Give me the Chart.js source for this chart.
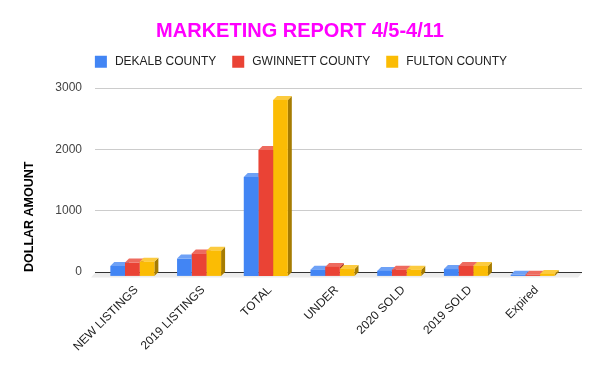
<!DOCTYPE html>
<html>
<head>
<meta charset="utf-8">
<script src="https://cdn.jsdelivr.net/npm/chart.js@4"></script>
<style>
  body { margin: 0; background: #fff; }
</style>
</head>
<body>
<canvas id="chart" width="600" height="371"></canvas>
<script>
const categories = ['NEW LISTINGS', '2019 LISTINGS', 'TOTAL', 'UNDER', '2020 SOLD', '2019 SOLD', 'Expired'];
const dekalb = [170, 290, 1620, 110, 90, 120, 25];
const gwinnett = [225, 375, 2060, 155, 110, 170, 25];
const fulton = [240, 420, 2875, 120, 110, 170, 40];
const yTicks = [0, 1000, 2000, 3000];

const seriesNames = ['DEKALB COUNTY', 'GWINNETT COUNTY', 'FULTON COUNTY'];
const frontColors = ['#4285f4', '#ea4335', '#fbbc04'];
const topColors = ['#6ea1f6', '#ee6b5f', '#fccb3f'];
const sideColors = ['#2b5aa8', '#a12e24', '#a67c02'];

// 3d look: front faces are pushed down-left, top and side faces drawn behind
const depthX = 4, depthY = 4, shiftY = 4.4;

const bars3d = {
  id: 'bars3d',
  beforeDatasetsDraw(chart) {
    const ctx = chart.ctx;
    const area = chart.chartArea;
    const yScale = chart.scales.y;
    const y0 = yScale.getPixelForValue(0);

    // floor under the baseline
    ctx.save();
    ctx.fillStyle = '#ececec';
    ctx.beginPath();
    ctx.moveTo(95, y0 + 1);
    ctx.lineTo(582, y0 + 1);
    ctx.lineTo(582 - depthX, y0 + shiftY + 1);
    ctx.lineTo(95 - depthX, y0 + shiftY + 1);
    ctx.closePath();
    ctx.fill();

    // gridlines run a bit past the plot on the right
    ctx.lineWidth = 1;
    yTicks.forEach(v => {
      const py = Math.round(yScale.getPixelForValue(v) - 0.5) + 0.5;
      ctx.strokeStyle = v === 0 ? '#333' : '#ccc';
      ctx.beginPath();
      ctx.moveTo(area.right, py);
      ctx.lineTo(582, py);
      ctx.stroke();
    });
    ctx.restore();

    ctx.save();
    ctx.translate(-depthX, shiftY);
    chart.data.datasets.forEach((ds, i) => {
      const meta = chart.getDatasetMeta(i);
      meta.data.forEach(bar => {
        const p = bar.getProps(['x', 'y', 'base', 'width'], true);
        const left = p.x - p.width / 2, right = p.x + p.width / 2;
        ctx.fillStyle = sideColors[i];
        ctx.beginPath();
        ctx.moveTo(right, p.base);
        ctx.lineTo(right, p.y);
        ctx.lineTo(right + depthX, p.y - depthY);
        ctx.lineTo(right + depthX, p.base - depthY);
        ctx.closePath();
        ctx.fill();
        ctx.fillStyle = topColors[i];
        ctx.beginPath();
        ctx.moveTo(left, p.y);
        ctx.lineTo(right, p.y);
        ctx.lineTo(right + depthX, p.y - depthY);
        ctx.lineTo(left + depthX, p.y - depthY);
        ctx.closePath();
        ctx.fill();
      });
    });
  },
  afterDatasetsDraw(chart) {
    chart.ctx.restore();
  }
};

Chart.defaults.font.family = '"Liberation Sans", Arial, sans-serif';

const chart = new Chart(document.getElementById('chart'), {
  type: 'bar',
  data: {
    labels: categories,
    datasets: [
      { label: seriesNames[0], data: dekalb, backgroundColor: frontColors[0], clip: false },
      { label: seriesNames[1], data: gwinnett, backgroundColor: frontColors[1], clip: false },
      { label: seriesNames[2], data: fulton, backgroundColor: frontColors[2], clip: false }
    ]
  },
  options: {
    responsive: false,
    animation: false,
    layout: { padding: 0 },
    datasets: { bar: { barPercentage: 1, categoryPercentage: 0.66 } },
    plugins: {
      title: {
        display: true,
        text: 'MARKETING REPORT 4/5-4/11',
        color: '#ff00ff',
        font: { size: 20, weight: 'bold', lineHeight: 1.2 },
        padding: { top: 19, bottom: -3.3 }
      },
      // spacer between legend and plot
      subtitle: { display: true, text: '', weight: 500, padding: 0, font: { size: 8.3, lineHeight: 1 } },
      legend: {
        position: 'top',
        labels: {
          boxWidth: 16,
          boxHeight: 16,
          padding: 14,
          color: '#222',
          font: { size: 12 },
          generateLabels(chart) {
            const items = Chart.defaults.plugins.legend.labels.generateLabels(chart);
            items.forEach(it => { it.strokeStyle = '#fff'; it.lineWidth = 4; });
            return items;
          }
        }
      },
      tooltip: { enabled: false }
    },
    scales: {
      x: {
        afterFit: s => { s.height = 99; },
        grid: { display: false, drawTicks: false },
        border: { display: false },
        ticks: { autoSkip: false, minRotation: 45, maxRotation: 45, padding: 11, color: '#222', font: { size: 12 } }
      },
      y: {
        min: 0,
        max: 3000,
        afterFit: s => { s.width = 103; },
        afterBuildTicks: s => { s.ticks = yTicks.map(v => ({ value: v })); },
        ticks: { padding: 13, color: '#444', font: { size: 12 }, callback: v => String(v) },
        grid: { color: c => (c.tick && c.tick.value === 0) ? '#333' : '#ccc', tickLength: 8 },
        border: { display: false },
        title: {
          display: true,
          text: 'DOLLAR AMOUNT',
          align: 'start',
          color: '#000',
          font: { size: 12.5, weight: 'bold' },
          padding: { top: 22, bottom: 0 }
        }
      },
      y2: {
        position: 'right',
        afterFit: s => { s.width = 30; },
        grid: { display: false, drawTicks: false },
        border: { display: false },
        ticks: { display: false }
      }
    }
  },
  plugins: [bars3d]
});
</script>
</body>
</html>
